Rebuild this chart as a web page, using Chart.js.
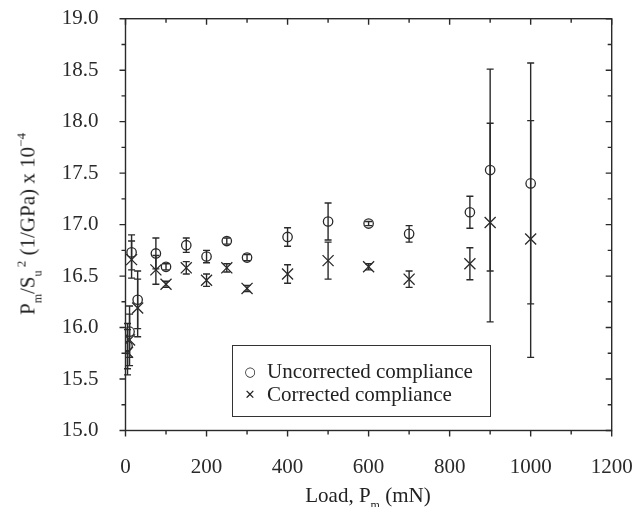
<!DOCTYPE html>
<html>
<head>
<meta charset="utf-8">
<script src="https://cdn.jsdelivr.net/npm/chart.js@4.4.1/dist/chart.umd.min.js"></script>
<style>
    body { margin: 0; background: #fff; }
    #wrap { position: relative; width: 635px; height: 507px; font-family: 'Liberation Serif', 'Times New Roman', serif; color: #222; }
    #chart { position: absolute; left: 0; top: 0; }
    .title { position: absolute; font-size: 21px; white-space: nowrap; line-height: 21px; }
    .title sub { font-size: 12px; vertical-align: -7px; line-height: 0; }
    .title sup { font-size: 13px; vertical-align: 9px; line-height: 0; }
    #ytitle { left: 28px; top: 224px; transform: translate(-50%, -50%) rotate(-90deg); }
    #xtitle { left: 368px; top: 485px; transform: translateX(-50%); }
    #legend { position: absolute; left: 232px; top: 345px; width: 257px; height: 70px; border: 1.3px solid #333; font-size: 21px; }
    #legend .row { position: absolute; left: 34px; white-space: nowrap; line-height: 21px; }
    #legend .sym { position: absolute; left: -26px; width: 18px; text-align: center; font-family: 'DejaVu Sans', sans-serif; font-size: 13px; }
</style>
</head>
<body>
<div id="wrap">
    <canvas id="chart" width="635" height="507"></canvas>
    <div id="ytitle" class="title">P<sub>m</sub>/S<sub>u</sub><sup>&nbsp;2</sup> (1/GPa) x 10<sup>&minus;4</sup></div>
    <div id="xtitle" class="title">Load, P<sub>m</sub> (mN)</div>
    <div id="legend">
        <div class="row" style="top:15px"><span class="sym">&#9675;</span>Uncorrected compliance</div>
        <div class="row" style="top:38px"><span class="sym">&#10005;</span>Corrected compliance</div>
    </div>
</div>
<script>
// Load values (mN)
const loads = [5, 10, 15, 30, 75, 100, 150, 200, 250, 300, 400, 500, 600, 700, 850, 900, 1000];

// Uncorrected compliance and its error
const uncorrected    = [15.82, 15.96, 16.73, 16.27, 16.72, 16.59, 16.80, 16.69, 16.84, 16.68, 16.88, 17.03, 17.01, 16.91, 17.12, 17.53, 17.40];
const uncorrectedErr = [0.22, 0.25, 0.17, 0.28, 0.15, 0.03, 0.07, 0.06, 0.03, 0.03, 0.09, 0.18, 0.02, 0.08, 0.155, 0.98, 1.17];

// Corrected compliance and its error
const corrected      = [15.76, 15.88, 16.66, 16.19, 16.56, 16.42, 16.58, 16.46, 16.58, 16.38, 16.52, 16.65, 16.59, 16.47, 16.62, 17.02, 16.86];
const correctedErr   = [0.22, 0.25, 0.18, 0.28, 0.14, 0.03, 0.06, 0.06, 0.04, 0.03, 0.09, 0.18, 0.03, 0.08, 0.155, 0.965, 1.15];

// Axis ticks
const xTicks = [0, 200, 400, 600, 800, 1000, 1200];
const yTicks = [15.0, 15.5, 16.0, 16.5, 17.0, 17.5, 18.0, 18.5, 19.0];
const xMinorStep = 100;
const yMinorStep = 0.25;

const ink = '#2a2a2a';

function toPoints(ys) {
    return loads.map((x, i) => ({ x: x, y: ys[i] }));
}

// Drop the automatic label overflow padding so layout.padding sets the plot box
function fixScale(scale, size) {
    if (scale.isHorizontal()) scale.height = size; else scale.width = size;
    scale.paddingLeft = 0;
    scale.paddingRight = 0;
    scale.paddingTop = 0;
    scale.paddingBottom = 0;
}

// Vertical error bars, drawn through the chart scales
const errorBars = {
    id: 'errorBars',
    beforeDatasetsDraw(chart) {
        const ctx = chart.ctx;
        const xs = chart.scales.x, ys = chart.scales.y;
        const sets = [[uncorrected, uncorrectedErr], [corrected, correctedErr]];
        ctx.save();
        ctx.strokeStyle = ink;
        ctx.lineWidth = 1.4;
        sets.forEach(([vals, errs]) => {
            loads.forEach((x, i) => {
                const px = xs.getPixelForValue(x);
                const top = ys.getPixelForValue(vals[i] + errs[i]);
                const bot = ys.getPixelForValue(vals[i] - errs[i]);
                ctx.beginPath();
                ctx.moveTo(px, top); ctx.lineTo(px, bot);
                ctx.moveTo(px - 3.5, top); ctx.lineTo(px + 3.5, top);
                ctx.moveTo(px - 3.5, bot); ctx.lineTo(px + 3.5, bot);
                ctx.stroke();
            });
        });
        ctx.restore();
    }
};

// Frame with ticks: outward on left/bottom, inward on right/top
const frameTicks = {
    id: 'frameTicks',
    afterDraw(chart) {
        const ctx = chart.ctx;
        const a = chart.chartArea;
        const xs = chart.scales.x, ys = chart.scales.y;
        ctx.save();
        ctx.strokeStyle = ink;
        ctx.lineWidth = 1.4;
        ctx.strokeRect(a.left, a.top, a.right - a.left, a.bottom - a.top);
        ctx.beginPath();
        for (let v = xs.min; v <= xs.max + 1e-9; v += xMinorStep) {
            const major = xTicks.includes(v);
            const len = major ? 6 : 4;
            const px = xs.getPixelForValue(v);
            ctx.moveTo(px, a.bottom); ctx.lineTo(px, a.bottom + len);
            ctx.moveTo(px, a.top); ctx.lineTo(px, a.top + len);
        }
        for (let v = ys.min; v <= ys.max + 1e-9; v += yMinorStep) {
            const major = yTicks.some(t => Math.abs(t - v) < 1e-6);
            const len = major ? 6 : 4;
            const py = ys.getPixelForValue(v);
            ctx.moveTo(a.left - len, py); ctx.lineTo(a.left, py);
            ctx.moveTo(a.right - len, py); ctx.lineTo(a.right, py);
        }
        ctx.stroke();
        ctx.restore();
    }
};

const ctx = document.getElementById('chart');
new Chart(ctx, {
    type: 'scatter',
    data: {
        datasets: [{
            label: 'Uncorrected compliance',
            data: toPoints(uncorrected),
            pointStyle: 'circle',
            pointRadius: 4.7,
            borderColor: ink,
            backgroundColor: 'rgba(0,0,0,0)',
            borderWidth: 1.3
        }, {
            label: 'Corrected compliance',
            data: toPoints(corrected),
            pointStyle: 'crossRot',
            pointRadius: 7.8,
            borderColor: ink,
            backgroundColor: ink,
            borderWidth: 1.3
        }]
    },
    options: {
        responsive: false,
        animation: false,
        layout: { padding: { top: 18.7, right: 23.3, left: 0, bottom: 0 } },
        plugins: {
            legend: { display: false },
            tooltip: { enabled: false }
        },
        scales: {
            x: {
                type: 'linear',
                min: 0,
                max: 1200,
                afterFit: scale => fixScale(scale, 76.5),
                afterBuildTicks: scale => { scale.ticks = xTicks.map(v => ({ value: v })); },
                grid: { display: false, drawTicks: false },
                border: { display: false },
                ticks: {
                    padding: 24,
                    color: ink,
                    font: { family: 'Liberation Serif', size: 21 },
                    callback: v => String(v)
                }
            },
            y: {
                type: 'linear',
                min: 15,
                max: 19,
                afterFit: scale => fixScale(scale, 125.5),
                afterBuildTicks: scale => { scale.ticks = yTicks.map(v => ({ value: v })); },
                grid: { display: false, drawTicks: false },
                border: { display: false },
                ticks: {
                    padding: 27,
                    color: ink,
                    font: { family: 'Liberation Serif', size: 21 },
                    callback: v => Number(v).toFixed(1)
                }
            }
        }
    },
    plugins: [errorBars, frameTicks]
});
</script>
</body>
</html>
